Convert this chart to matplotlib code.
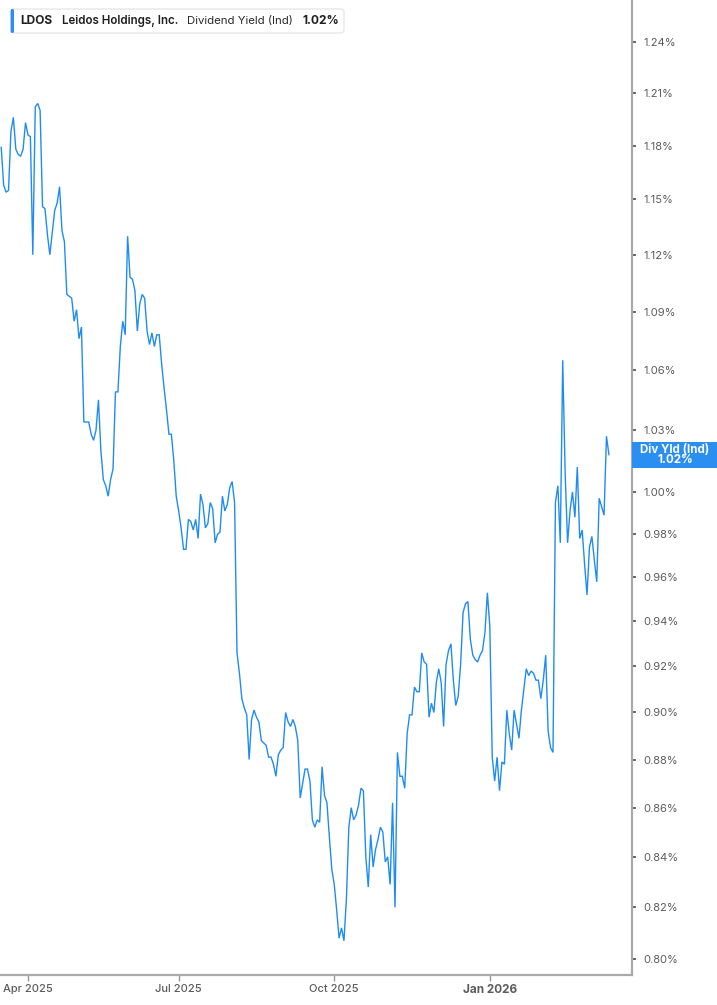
import numpy as np
import pandas as pd
import matplotlib
matplotlib.use("Agg")
import matplotlib.pyplot as plt
from matplotlib.patches import FancyBboxPatch, Rectangle
from matplotlib.ticker import FixedLocator, NullLocator, FixedFormatter
from matplotlib.transforms import IdentityTransform

# ---------------- data ----------------
ticker = "LDOS"
company = "Leidos Holdings, Inc."
metric = "Dividend Yield (Ind)"
badge_title = "Div Yld (Ind)"
start_date = "2025-03-17"
market_holidays = ["2025-04-18", "2025-05-26", "2025-06-19", "2025-07-04",
                   "2025-09-01", "2025-11-27", "2025-12-25", "2026-01-01",
                   "2026-01-19", "2026-02-16"]

yield_pct = [
    1.179, 1.158, 1.154, 1.155, 1.188, 1.196, 1.178, 1.175, 1.174, 1.178,
    1.193, 1.186, 1.185, 1.120, 1.202, 1.204, 1.200, 1.146, 1.145, 1.131,
    1.120, 1.132, 1.144, 1.148, 1.157, 1.133, 1.127, 1.099, 1.098, 1.097,
    1.085, 1.091, 1.076, 1.082, 1.034, 1.034, 1.034, 1.028, 1.025, 1.030,
    1.045, 1.020, 1.006, 1.003, 0.998, 1.006, 1.011, 1.049, 1.049, 1.072,
    1.085, 1.078, 1.130, 1.108, 1.107, 1.101, 1.080, 1.094, 1.099, 1.097,
    1.080, 1.073, 1.079, 1.072, 1.078, 1.078, 1.063, 1.051, 1.040, 1.028,
    1.028, 1.015, 0.998, 0.991, 0.983, 0.973, 0.973, 0.987, 0.986, 0.982,
    0.987, 0.978, 0.999, 0.994, 0.983, 0.985, 0.995, 0.992, 0.976, 0.980,
    0.981, 0.998, 0.991, 0.994, 1.002, 1.005, 0.995, 0.926, 0.917,
    0.906, 0.902, 0.899, 0.880, 0.897, 0.901, 0.898, 0.896, 0.888, 0.887,
    0.886, 0.881, 0.881, 0.878, 0.873, 0.882, 0.884, 0.885, 0.900, 0.896,
    0.894, 0.897, 0.894, 0.888, 0.864, 0.870, 0.876, 0.876, 0.871, 0.855,
    0.852, 0.855, 0.854, 0.877, 0.865, 0.862, 0.848, 0.835, 0.829,
    0.819, 0.808, 0.812, 0.807, 0.823, 0.852, 0.860, 0.855, 0.857, 0.861,
    0.868, 0.867, 0.840, 0.828, 0.849, 0.836, 0.843, 0.847, 0.852, 0.850,
    0.838, 0.840, 0.829, 0.862, 0.820, 0.883, 0.873, 0.873, 0.868, 0.891,
    0.899, 0.899, 0.911, 0.909, 0.909, 0.926, 0.922, 0.921, 0.898, 0.904,
    0.900, 0.913, 0.919, 0.913, 0.894, 0.921, 0.927, 0.930, 0.914, 0.903,
    0.907, 0.921, 0.944, 0.948, 0.949, 0.932, 0.925, 0.923, 0.922, 0.925,
    0.927, 0.935, 0.953, 0.938, 0.881, 0.871,
    0.881, 0.867, 0.879,
    0.878, 0.901, 0.891, 0.884, 0.901, 0.895, 0.889, 0.901, 0.910, 0.919,
    0.916, 0.918, 0.917, 0.914, 0.914, 0.906, 0.914, 0.925, 0.892, 0.885,
    0.883, 0.995, 1.003, 0.976, 1.065, 1.009, 0.976, 0.991, 1.000, 0.988,
    1.012, 0.978, 0.982, 0.966, 0.952, 0.974, 0.979, 0.968, 0.958, 0.997,
    0.993, 0.989, 1.027, 1.018,
]

y_ticks = [0.80, 0.82, 0.84, 0.86, 0.88, 0.90, 0.92, 0.94, 0.96, 0.98,
           1.00, 1.03, 1.06, 1.09, 1.12, 1.15, 1.18, 1.21, 1.24]
x_tick_months = ["2025-04-01", "2025-07-01", "2025-10-01", "2026-01-01"]
x_tick_labels = ["Apr 2025", "Jul 2025", "Oct 2025", "Jan 2026"]

# ---------------- style ----------------
plt.rcParams["font.family"] = ["Inter", "DejaVu Sans"]
LINE = "#1f8cf3"
BADGE = "#2b8ff2"
SPINE = "#aaaaaa"
TXT = "#5c5c5c"

W, H = 717, 1005
fig = plt.figure(figsize=(W / 100, H / 100), dpi=100)
fig.patch.set_facecolor("white")
ax = fig.add_axes([0, 30.5 / H, 632 / W, 974.5 / H])

cbd = pd.offsets.CustomBusinessDay(holidays=market_holidays)
dates = pd.date_range(start=start_date, periods=len(yield_pct), freq=cbd)
idx = np.arange(len(dates))

ax.plot(idx, yield_pct, color=LINE, lw=1.0, solid_joinstyle="miter")

ax.set_yscale("log")
ax.set_ylim(0.7941, 1.265)
ax.set_xlim(-0.5, 259.5)

ax.yaxis.set_major_locator(FixedLocator(y_ticks))
ax.yaxis.set_minor_locator(NullLocator())
ax.yaxis.set_major_formatter(FixedFormatter([f"{v:.2f}%" for v in y_ticks]))
ax.yaxis.set_minor_formatter(FixedFormatter([]))
ax.yaxis.tick_right()

tick_pos = [int(np.searchsorted(dates.values, np.datetime64(m))) for m in x_tick_months]
ax.xaxis.set_major_locator(FixedLocator(tick_pos))
ax.xaxis.set_major_formatter(FixedFormatter(x_tick_labels))

for s in ["left", "top"]:
    ax.spines[s].set_visible(False)
for s in ["right", "bottom"]:
    ax.spines[s].set_color(SPINE)
    ax.spines[s].set_linewidth(1.6)

ax.tick_params(axis="y", which="major", direction="out", length=3, width=1.4,
               color="#666666", labelsize=8, labelcolor=TXT, pad=5)
ax.tick_params(axis="x", which="major", direction="out", length=4, width=1.0,
               color="#999999", labelsize=8, labelcolor=TXT, pad=3)
for lab in ax.get_xticklabels():
    if lab.get_text().startswith("Jan"):
        lab.set_fontweight("bold")
        lab.set_fontsize(8.5)
    else:
        lab.set_fontweight("medium")

# ---------------- legend box (top-left) ----------------
def py(y):  # pixel from top -> display y
    return H - y

box = FancyBboxPatch((10.7, py(33)), 333.3, 24,
                     boxstyle="round,pad=0,rounding_size=3",
                     facecolor="white", edgecolor="#e2e2e2", lw=0.8,
                     transform=IdentityTransform())
fig.add_artist(box)
bar = FancyBboxPatch((10.7, py(33)), 3.3, 24,
                     boxstyle="round,pad=0,rounding_size=1.5",
                     facecolor=BADGE, edgecolor="none",
                     transform=IdentityTransform())
fig.add_artist(bar)

ly = py(21)
fig.text(20.5, ly, ticker, transform=IdentityTransform(), fontsize=8.6,
         fontweight="bold", color="#1f1f1f", ha="left", va="center")
fig.text(61.5, ly, company, transform=IdentityTransform(), fontsize=8.3,
         fontweight="semibold", color="#1f1f1f", ha="left", va="center")
fig.text(187.3, ly, metric, transform=IdentityTransform(), fontsize=8.2,
         fontweight="normal", color="#2a2a2a", ha="left", va="center")
fig.text(302.3, ly, f"{yield_pct[-1]:.2f}%", transform=IdentityTransform(), fontsize=8.6,
         fontweight="bold", color="#1f1f1f", ha="left", va="center")

# ---------------- right value badge ----------------
last_disp = ax.transData.transform((idx[-1], yield_pct[-1]))
by = last_disp[1]
badge = Rectangle((631.7, by - 13), W - 631.7, 26, facecolor=BADGE,
                  edgecolor="none", transform=IdentityTransform())
fig.add_artist(badge)
fig.text(675, by + 5, badge_title, transform=IdentityTransform(), fontsize=8.3,
         fontweight="bold", color="white", ha="center", va="center")
fig.text(675, by - 5.5, f"{yield_pct[-1]:.2f}%", transform=IdentityTransform(),
         fontsize=8.3, fontweight="bold", color="white", ha="center", va="center")

fig.savefig("out.png", dpi=100, facecolor="white")
